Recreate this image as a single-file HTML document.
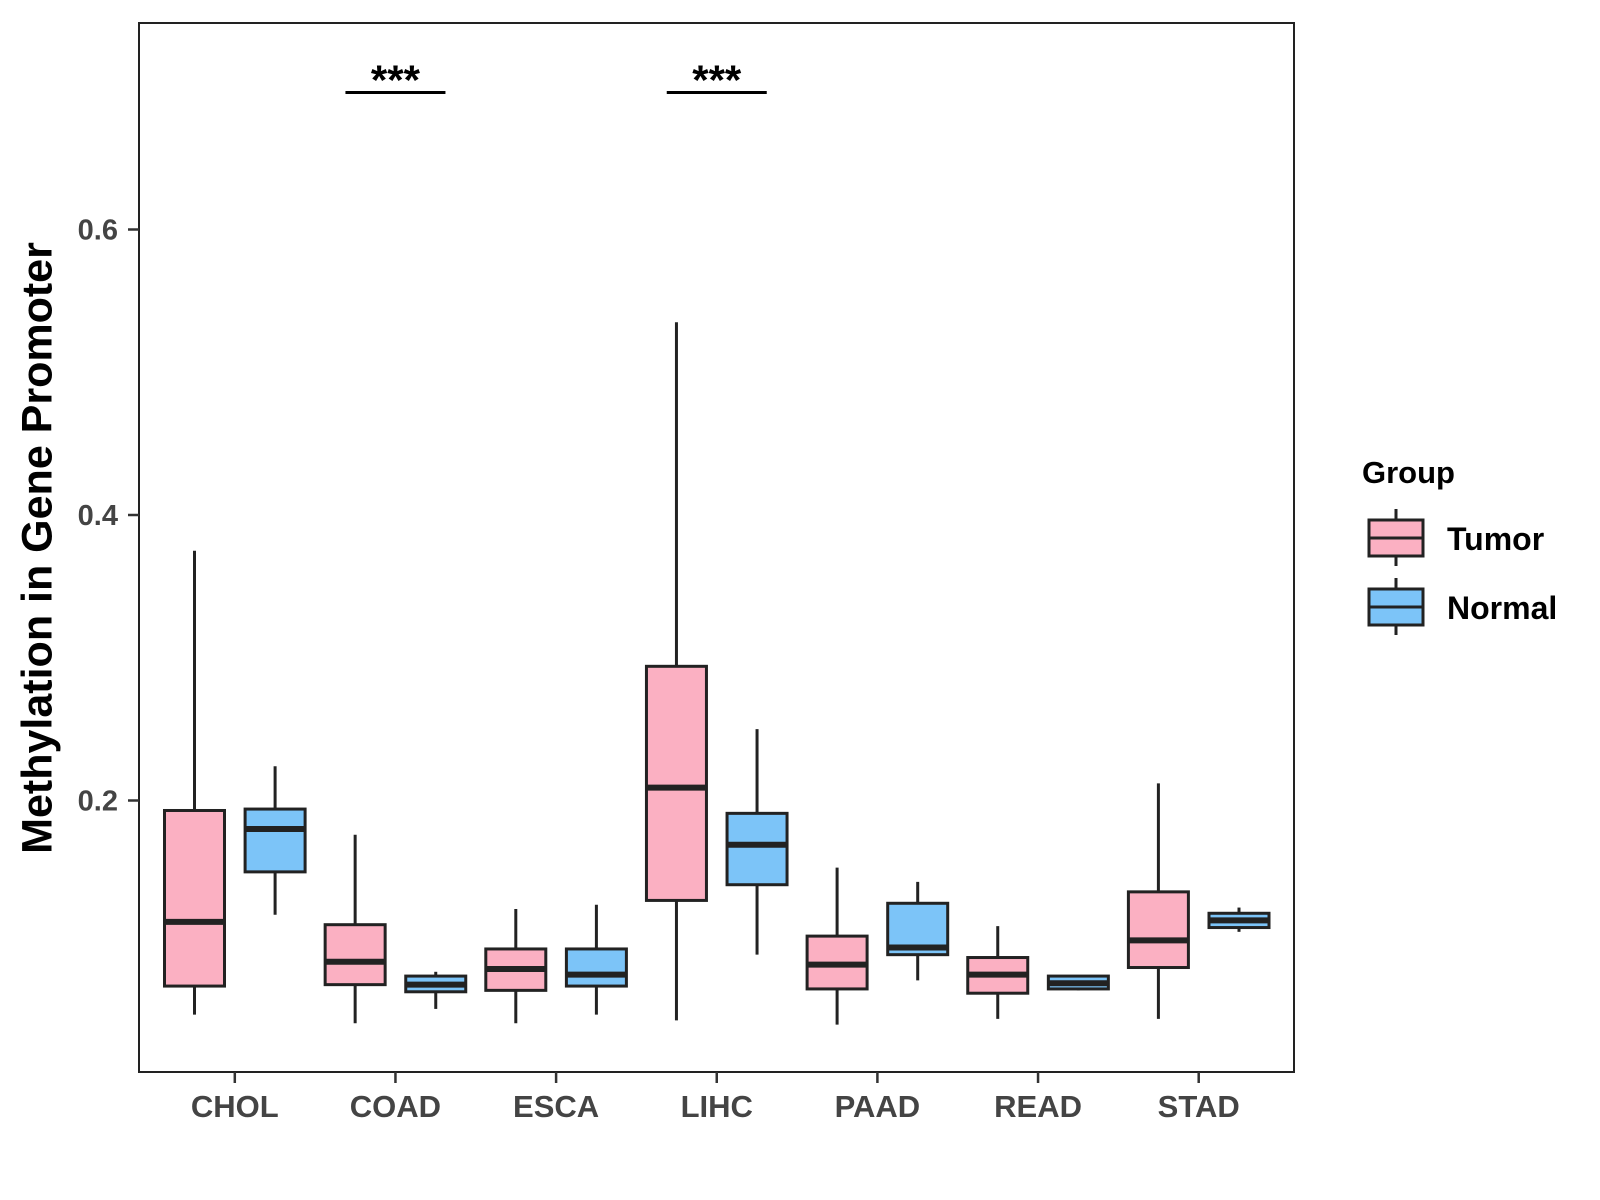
<!DOCTYPE html>
<html><head><meta charset="utf-8"><style>
body{margin:0;background:#fff;}
svg{display:block;font-family:"Liberation Sans",Arial,sans-serif;font-weight:bold;}
</style></head><body>
<svg id="chart" width="1600" height="1200">
<rect x="139" y="23" width="1155" height="1049" fill="none" stroke="#222" stroke-width="2"/>
<g id="marks"></g>
<g id="axes"></g>
<text x="40" y="548" transform="rotate(-90 40 548)" text-anchor="middle" dominant-baseline="middle" font-size="43" fill="#000">Methylation in Gene Promoter</text>
<g>
<text x="1362" y="483" font-size="31" fill="#000">Group</text>
<g>
<line x1="1396" y1="509" x2="1396" y2="566" stroke="#222" stroke-width="3"/>
<rect x="1369" y="520" width="54" height="36" fill="#FBB0C2" stroke="#222" stroke-width="3"/>
<line x1="1369" y1="538" x2="1423" y2="538" stroke="#222" stroke-width="3"/>
<text x="1447" y="550" font-size="32" fill="#000">Tumor</text>
</g>
<g>
<line x1="1396" y1="578" x2="1396" y2="635" stroke="#222" stroke-width="3"/>
<rect x="1369" y="589" width="54" height="36" fill="#7CC4F8" stroke="#222" stroke-width="3"/>
<line x1="1369" y1="607" x2="1423" y2="607" stroke="#222" stroke-width="3"/>
<text x="1447" y="619" font-size="32" fill="#000">Normal</text>
</g>
</g>
</svg>
<script>
const categories=["CHOL","COAD","ESCA","LIHC","PAAD","READ","STAD"];
// [low, q1, median, q3, high]
const tumor=[[0.050,0.070,0.115,0.193,0.375],[0.044,0.071,0.087,0.113,0.176],[0.044,0.067,0.082,0.096,0.124],[0.046,0.130,0.209,0.294,0.535],[0.043,0.068,0.085,0.105,0.153],[0.047,0.065,0.078,0.090,0.112],[0.047,0.083,0.102,0.136,0.212]];
const normal=[[0.120,0.150,0.180,0.194,0.224],[0.054,0.066,0.071,0.077,0.080],[0.050,0.070,0.078,0.096,0.127],[0.092,0.141,0.169,0.191,0.250],[0.074,0.092,0.097,0.128,0.143],[0.067,0.068,0.072,0.077,0.077],[0.108,0.111,0.116,0.121,0.125]];
const yTicks=[0.2,0.4,0.6];
const sigCats=["COAD","LIHC"];
const sigLabels=["***","***"];
const sigY=0.696;
const NS="http://www.w3.org/2000/svg";
const y=v=>800.5-(v-0.2)*1427.5;
const x=i=>234.8+i*160.65;
const marks=document.getElementById('marks'),axes=document.getElementById('axes');
function mk(tag,attrs,parent){const e=document.createElementNS(NS,tag);for(const k in attrs)e.setAttribute(k,attrs[k]);parent.appendChild(e);return e;}
function box(cx,d,fill,name){
 const g=mk('g',{},marks);
 
 
 const w=60;
 mk('line',{x1:cx,x2:cx,y1:y(d[4]),y2:y(d[0]),stroke:'#222','stroke-width':3},g);
 mk('rect',{x:cx-w/2,y:y(d[3]),width:w,height:Math.max(1,y(d[1])-y(d[3])),fill:fill,stroke:'#222','stroke-width':3},g);
 mk('line',{x1:cx-w/2,x2:cx+w/2,y1:y(d[2]),y2:y(d[2]),stroke:'#222','stroke-width':6},g);
}
categories.forEach((c,i)=>{
 box(x(i)-40.3,tumor[i],'#FBB0C2','box-tumor-'+c.toLowerCase());
 box(x(i)+40.3,normal[i],'#7CC4F8','box-normal-'+c.toLowerCase());
 const t=mk('line',{x1:x(i),x2:x(i),y1:1072,y2:1083,stroke:'#333','stroke-width':2.5},axes);
 
 
 const l=mk('text',{x:x(i),y:1117,'text-anchor':'middle','font-size':31,fill:'#444'},axes);
 l.textContent=c;
 
 
});
yTicks.forEach(v=>{
 const t=mk('line',{x1:128,x2:139,y1:y(v),y2:y(v),stroke:'#333','stroke-width':2.5},axes);
 
 
 const l=mk('text',{x:118,y:y(v)+10,'text-anchor':'end','font-size':29,fill:'#444'},axes);
 l.textContent=v.toFixed(1);
 
 
});
sigCats.forEach((c,k)=>{
 const i=categories.indexOf(c);
 const ln=mk('line',{x1:x(i)-50,x2:x(i)+50,y1:y(sigY),y2:y(sigY),stroke:'#000','stroke-width':3},marks);
 
 
 const t=mk('text',{x:x(i),y:y(sigY)+2,'text-anchor':'middle','font-size':42,fill:'#000'},marks);
 t.textContent=sigLabels[k];
 
 
});
</script>
</body></html>
